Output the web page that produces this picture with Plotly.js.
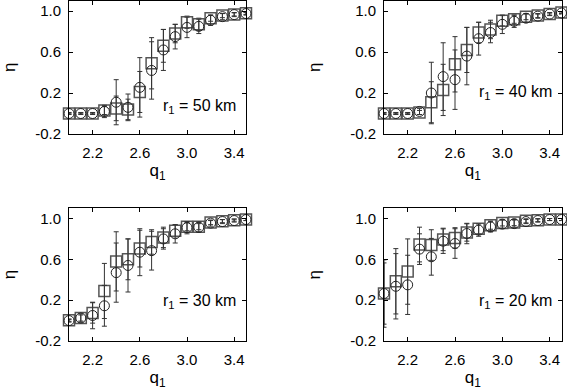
<!DOCTYPE html>
<html>
<head>
<meta charset="utf-8">
<script src="https://cdn.plot.ly/plotly-3.0.1.min.js"></script>
<style>
  html, body { margin: 0; padding: 0; background: #fff; }
  #chart { width: 567px; height: 391px; }
</style>
</head>
<body>
<div id="chart"></div>
<script>
// Valores de q1 (eje x comun a los cuatro paneles)
const q1 = [2.0, 2.1, 2.2, 2.3, 2.4, 2.5, 2.6, 2.7, 2.8, 2.9, 3.0, 3.1, 3.2, 3.3, 3.4, 3.5];

// r1 = 50 km
const sq50 = [0, 0, 0, 0.03, 0.05, 0.04, 0.21, 0.49, 0.66, 0.78, 0.89, 0.87, 0.93, 0.955, 0.967, 0.977];
const sq50Err = [0.005, 0.005, 0.005, 0.04, 0.12, 0.1, 0.2, 0.25, 0.16, 0.09, 0.06, 0.06, 0.03, 0.02, 0.015, 0.01];
const ci50 = [0, 0, 0, 0.02, 0.11, 0.06, 0.255, 0.42, 0.62, 0.75, 0.84, 0.85, 0.91, 0.945, 0.965, 0.975];
const ci50Err = [0.01, 0.01, 0.01, 0.06, 0.22, 0.13, 0.29, 0.28, 0.2, 0.12, 0.1, 0.07, 0.05, 0.03, 0.02, 0.015];

// r1 = 40 km
const sq40 = [0, 0, 0, 0.01, 0.11, 0.23, 0.48, 0.62, 0.79, 0.82, 0.905, 0.92, 0.945, 0.955, 0.97, 0.985];
const sq40Err = [0.005, 0.005, 0.005, 0.02, 0.2, 0.25, 0.27, 0.22, 0.1, 0.09, 0.05, 0.04, 0.03, 0.02, 0.01, 0.01];
const ci40 = [0, 0, 0, 0.02, 0.2, 0.36, 0.33, 0.56, 0.73, 0.79, 0.87, 0.9, 0.93, 0.95, 0.97, 0.98];
const ci40Err = [0.01, 0.01, 0.01, 0.03, 0.3, 0.33, 0.29, 0.28, 0.16, 0.1, 0.09, 0.06, 0.04, 0.02, 0.015, 0.01];

// r1 = 30 km
const sq30 = [0.003, 0.025, 0.075, 0.29, 0.58, 0.6, 0.705, 0.77, 0.815, 0.88, 0.92, 0.92, 0.96, 0.974, 0.984, 0.99];
const sq30Err = [0.01, 0.03, 0.1, 0.27, 0.29, 0.2, 0.18, 0.12, 0.1, 0.06, 0.04, 0.03, 0.02, 0.015, 0.01, 0.01];
const ci30 = [0, 0.025, 0.05, 0.145, 0.47, 0.54, 0.67, 0.685, 0.8, 0.85, 0.91, 0.915, 0.955, 0.97, 0.98, 0.99];
const ci30Err = [0.015, 0.04, 0.13, 0.2, 0.29, 0.26, 0.23, 0.19, 0.1, 0.09, 0.06, 0.05, 0.03, 0.02, 0.015, 0.01];

// r1 = 20 km
const sq20 = [0.265, 0.385, 0.48, 0.745, 0.74, 0.795, 0.81, 0.863, 0.9, 0.935, 0.957, 0.96, 0.977, 0.984, 0.99, 0.99];
const sq20Err = [0.3, 0.32, 0.32, 0.17, 0.15, 0.11, 0.1, 0.085, 0.05, 0.04, 0.03, 0.03, 0.02, 0.015, 0.01, 0.01];
const ci20 = [0.265, 0.336, 0.35, 0.7, 0.625, 0.778, 0.755, 0.853, 0.886, 0.918, 0.945, 0.95, 0.97, 0.98, 0.99, 0.99];
const ci20Err = [0.33, 0.32, 0.29, 0.15, 0.18, 0.12, 0.145, 0.1, 0.06, 0.05, 0.04, 0.035, 0.02, 0.015, 0.01, 0.01];

const paneles = [
    { sq: sq50, sqErr: sq50Err, ci: ci50, ciErr: ci50Err, etiqueta: 'r<sub>1</sub> = 50 km', yEtiqueta: 0.065 },
    { sq: sq40, sqErr: sq40Err, ci: ci40, ciErr: ci40Err, etiqueta: 'r<sub>1</sub> = 40 km', yEtiqueta: 0.2 },
    { sq: sq30, sqErr: sq30Err, ci: ci30, ciErr: ci30Err, etiqueta: 'r<sub>1</sub> = 30 km', yEtiqueta: 0.19 },
    { sq: sq20, sqErr: sq20Err, ci: ci20, ciErr: ci20Err, etiqueta: 'r<sub>1</sub> = 20 km', yEtiqueta: 0.19 }
];

const fuente = 'Liberation Sans, Arial, Helvetica, sans-serif';
const traces = [];
const anotaciones = [];

paneles.forEach((p, i) => {
    const sufijo = i === 0 ? '' : String(i + 1);
    const xa = 'x' + sufijo;
    const ya = 'y' + sufijo;

    // Cuadrados
    traces.push({
        x: q1, y: p.sq, xaxis: xa, yaxis: ya,
        type: 'scatter', mode: 'markers', cliponaxis: false,
        marker: { symbol: 'square-open', size: 11, color: '#555', line: { width: 1.5 } },
        error_y: { type: 'data', array: p.sqErr, visible: true, color: '#333', thickness: 1, width: 2.5 },
        showlegend: false
    });

    // Circulos
    traces.push({
        x: q1, y: p.ci, xaxis: xa, yaxis: ya,
        type: 'scatter', mode: 'markers', cliponaxis: false,
        marker: { symbol: 'circle-open', size: 10, color: '#222', line: { width: 1 } },
        error_y: { type: 'data', array: p.ciErr, visible: true, color: '#333', thickness: 1, width: 2.5 },
        showlegend: false
    });

    anotaciones.push({
        xref: xa + ' domain', yref: ya,
        x: 1, y: p.yEtiqueta, xshift: -8,
        xanchor: 'right', yanchor: 'middle',
        text: p.etiqueta, showarrow: false,
        font: { family: fuente, size: 16, color: '#000' }
    });
});

function ejeX(dominio, ancla) {
    return {
        domain: dominio, anchor: ancla,
        range: [2.0, 3.5],
        tickvals: [2.2, 2.6, 3.0, 3.4],
        ticktext: ['2.2', '2.6', '3.0', '3.4'],
        ticks: 'inside', ticklen: 4, tickcolor: '#000',
        showline: true, linecolor: '#000', linewidth: 1, mirror: 'ticks',
        showgrid: false, zeroline: false,
        ticklabelstandoff: 5,
        tickfont: { family: fuente, size: 15, color: '#000' },
        title: { text: 'q<sub>1</sub>', font: { family: fuente, size: 17, color: '#000' }, standoff: 3 }
    };
}

function ejeY(dominio, ancla) {
    return {
        domain: dominio, anchor: ancla,
        range: [-0.2, 1.1],
        tickvals: [-0.2, 0.2, 0.6, 1.0],
        ticktext: ['-0.2', '0.2', '0.6', '1.0'],
        ticks: 'inside', ticklen: 4, tickcolor: '#000',
        showline: true, linecolor: '#000', linewidth: 1, mirror: 'ticks',
        showgrid: false, zeroline: false,
        ticklabelstandoff: 4,
        tickfont: { family: fuente, size: 15, color: '#000' },
        title: { text: 'η', font: { family: fuente, size: 17, color: '#000' }, standoff: 25 }
    };
}

const dxIzq = [69 / 567, 246 / 567];
const dxDer = [384 / 567, 561.5 / 567];
const dyArr = [1 - 134 / 391, 1 - 0.75 / 391];
const dyAba = [1 - 341 / 391, 1 - 208.3 / 391];

const layout = {
    width: 567, height: 391,
    margin: { l: 0, r: 0, t: 0, b: 0 },
    paper_bgcolor: '#fff', plot_bgcolor: '#fff',
    xaxis: ejeX(dxIzq, 'y'), yaxis: ejeY(dyArr, 'x'),
    xaxis2: ejeX(dxDer, 'y2'), yaxis2: ejeY(dyArr, 'x2'),
    xaxis3: ejeX(dxIzq, 'y3'), yaxis3: ejeY(dyAba, 'x3'),
    xaxis4: ejeX(dxDer, 'y4'), yaxis4: ejeY(dyAba, 'x4'),
    annotations: anotaciones,
    showlegend: false
};

Plotly.newPlot('chart', traces, layout, { displayModeBar: false, staticPlot: true });
</script>
</body>
</html>
